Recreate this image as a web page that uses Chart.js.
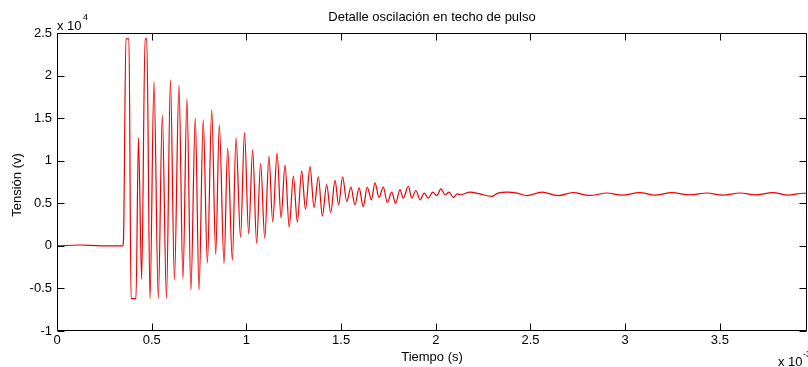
<!DOCTYPE html>
<html>
<head>
<meta charset="utf-8">
<script src="https://cdn.jsdelivr.net/npm/chart.js@4.4.0/dist/chart.umd.min.js"></script>
<style>
html, body { margin: 0; padding: 0; background: #fff; overflow: hidden; }
#wrap { position: relative; width: 808px; height: 367px; }
</style>
</head>
<body>
<div id="wrap"><canvas id="chart"></canvas></div>
<script>
// Tiempo (x 10^-?) y tensión (x 10^4 V)
const tiempo = [
  0, 0.12, 0.23, 0.347, 0.351, 0.364, 0.380, 0.391, 0.417, 0.430,
  0.447, 0.465, 0.474, 0.491, 0.512, 0.535, 0.556, 0.578, 0.599, 0.620,
  0.644, 0.665, 0.686, 0.707, 0.730, 0.750, 0.772, 0.794, 0.817, 0.838,
  0.857, 0.882, 0.901, 0.926, 0.945, 0.969, 0.990, 1.012, 1.033, 1.054,
  1.075, 1.097, 1.119, 1.139, 1.162, 1.183, 1.204, 1.226, 1.248, 1.269,
  1.292, 1.312, 1.336, 1.357, 1.380, 1.401, 1.424, 1.445, 1.468, 1.487,
  1.508, 1.530, 1.552, 1.573, 1.595, 1.617, 1.638, 1.660, 1.679, 1.700,
  1.723, 1.744, 1.767, 1.788, 1.811, 1.828, 1.855, 1.873, 1.895, 1.917,
  1.939, 1.960, 1.984, 2.005, 2.027, 2.049, 2.070, 2.092, 2.114, 2.128,
  2.181, 2.233, 2.295, 2.328, 2.376, 2.429, 2.481, 2.561, 2.645, 2.724,
  2.814, 2.904, 2.983, 3.078, 3.157, 3.247, 3.342, 3.432, 3.512, 3.607,
  3.685, 3.780, 3.860, 3.939, 3.976
];
const tension = [
  0, 0.01, 0, 0, 0.07, 2.43, 2.43, -0.62, -0.62, 1.27,
  -0.39, 2.43, 2.43, -0.62, 1.93, -0.62, 1.54, -0.62, 1.95, -0.40,
  1.89, -0.39, 1.73, -0.52, 1.50, -0.52, 1.48, -0.20, 1.60, -0.10,
  1.42, -0.21, 1.15, -0.17, 1.27, 0.10, 1.33, 0.14, 1.13, 0.03,
  0.97, 0.09, 1.05, 0.28, 1.09, 0.33, 0.95, 0.22, 0.82, 0.28,
  0.88, 0.43, 0.93, 0.45, 0.81, 0.35, 0.72, 0.39, 0.77, 0.48,
  0.81, 0.52, 0.69, 0.48, 0.68, 0.46, 0.69, 0.54, 0.74, 0.57,
  0.69, 0.51, 0.63, 0.50, 0.66, 0.56, 0.70, 0.56, 0.65, 0.54,
  0.62, 0.56, 0.63, 0.59, 0.67, 0.60, 0.63, 0.57, 0.61, 0.60,
  0.63, 0.61, 0.58, 0.62, 0.63, 0.62, 0.59, 0.63, 0.59, 0.625,
  0.592, 0.621, 0.596, 0.625, 0.596, 0.625, 0.598, 0.621, 0.596, 0.621,
  0.598, 0.625, 0.596, 0.618, 0.615
];
const xTicks = [0, 0.5, 1, 1.5, 2, 2.5, 3, 3.5];
const yTicks = [-1, -0.5, 0, 0.5, 1, 1.5, 2, 2.5];
const titulo = 'Detalle oscilación en techo de pulso';
const tituloX = 'Tiempo (s)';
const tituloY = 'Tensión (v)';

const fuente = '13px "Liberation Sans", Arial, sans-serif';

const puntos = tiempo.map((t, i) => ({ x: t, y: tension[i] }));

// caja estilo MATLAB con marcas hacia dentro y textos
const marcoMatlab = {
  id: 'marcoMatlab',
  afterDraw(chart) {
    const { ctx, chartArea: a, scales: { x, y } } = chart;
    const L = Math.round(a.left) + 0.5, R = Math.round(a.right) - 0.5;
    const T = Math.round(a.top) + 0.5, B = Math.round(a.bottom) - 0.5;
    const len = 7;
    ctx.save();
    ctx.strokeStyle = '#000';
    ctx.lineWidth = 1;
    ctx.beginPath();
    ctx.rect(L, T, R - L, B - T);
    for (const v of xTicks) {
      const px = Math.round(x.getPixelForValue(v)) + 0.5;
      ctx.moveTo(px, B); ctx.lineTo(px, B - len);
      ctx.moveTo(px, T); ctx.lineTo(px, T + len);
    }
    for (const v of yTicks) {
      const py = Math.round(y.getPixelForValue(v)) + 0.5;
      ctx.moveTo(L, py); ctx.lineTo(L + len, py);
      ctx.moveTo(R, py); ctx.lineTo(R - len, py);
    }
    ctx.stroke();

    ctx.fillStyle = '#000';
    ctx.font = fuente;
    ctx.textBaseline = 'middle';
    ctx.textAlign = 'center';
    const cx = (a.left + a.right) / 2;
    ctx.fillText(titulo, cx, 17);
    ctx.fillText(tituloX, cx, 357);

    ctx.save();
    ctx.translate(17, (a.top + a.bottom) / 2 + 3);
    ctx.rotate(-Math.PI / 2);
    ctx.fillText(tituloY, 0, 0);
    ctx.restore();

    // multiplicadores de escala
    ctx.textAlign = 'left';
    ctx.fillText('x 10', 57, 26);
    ctx.fillText('x 10', 778, 362);
    ctx.font = '9px "Liberation Sans", Arial, sans-serif';
    ctx.fillText('4', 83, 18);
    ctx.fillText('-3', 803, 355);
    ctx.restore();
  }
};

const ctx = document.getElementById('chart').getContext('2d');
new Chart(ctx, {
  type: 'scatter',
  data: {
    datasets: [{
      data: puntos,
      showLine: true,
      borderColor: '#ee0000',
      borderWidth: 1.2,
      pointRadius: 0,
      fill: false,
      cubicInterpolationMode: 'monotone'
    }]
  },
  options: {
    responsive: true,
    maintainAspectRatio: false,
    animation: false,
    layout: { padding: { top: 33, right: 1, left: 0, bottom: 0 } },
    plugins: {
      legend: { display: false },
      tooltip: { enabled: false },
      title: { display: false }
    },
    scales: {
      x: {
        type: 'linear',
        min: 0,
        max: 3.96,
        afterBuildTicks: s => { s.ticks = xTicks.map(v => ({ value: v })); },
        afterFit: s => { s.height = 36; },
        grid: { display: false, drawTicks: false },
        border: { display: false },
        ticks: {
          padding: 2,
          maxRotation: 0,
          autoSkip: false,
          color: '#000',
          font: { family: '"Liberation Sans", Arial, sans-serif', size: 13 },
          callback: v => String(v)
        }
      },
      y: {
        type: 'linear',
        min: -1,
        max: 2.5,
        afterBuildTicks: s => { s.ticks = yTicks.map(v => ({ value: v })); },
        afterFit: s => { s.width = 57; },
        grid: { display: false, drawTicks: false },
        border: { display: false },
        ticks: {
          padding: 5,
          autoSkip: false,
          color: '#000',
          font: { family: '"Liberation Sans", Arial, sans-serif', size: 13 },
          callback: v => String(v)
        }
      }
    }
  },
  plugins: [marcoMatlab]
});
</script>
</body>
</html>
